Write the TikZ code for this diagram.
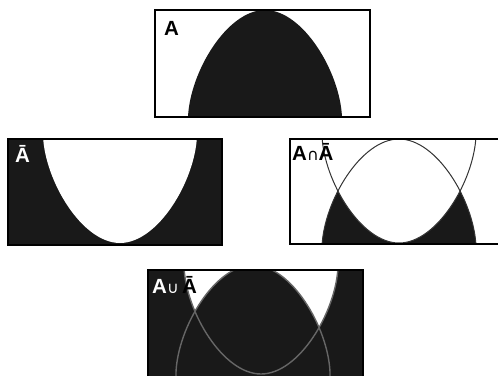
\documentclass[tikz,border=0pt]{standalone}
\usepackage{fontspec}
\setmainfont{Liberation Sans}
\newfontfamily\symfont{DejaVu Sans}
\tikzset{
  dark/.style={fill=black!90},
  panelbox/.style={draw=black, line width=1.5pt},
  cutline/.style={draw=black!80, line width=1pt},
  greyline/.style={draw=black!60, line width=1.4pt},
  lbl/.style={inner sep=0pt, anchor=base west, font=\fontsize{20.5}{20.5}\selectfont\bfseries},
}
\begin{document}
\begin{tikzpicture}[x=1pt,y=-1pt]
\useasboundingbox (0,0) rectangle (498,375);
\clip (0,0) rectangle (498,375);
% ---------- Panel 1: A ----------
\begin{scope}
  \clip (155,10) rectangle (370,117);
  \fill[white] (155,10) rectangle (370,117);
  \fill[dark] (188,130) -- (188,117) .. controls (190,72) and (227,10) .. (265,10)
      .. controls (303,10) and (340,72) .. (342,117) -- (342,130) -- cycle;
\end{scope}
\draw[panelbox] (155,10) rectangle (370,117);
\node[lbl] (la) at (164,35) {A};
% ---------- Panel 2: not A ----------
\begin{scope}
  \clip (8,139) rectangle (222,245);
  \fill[dark] (8,139) rectangle (222,245);
  \fill[white] (43,120) -- (43,136) .. controls (45,181) and (82,243) .. (120,243)
      .. controls (158,243) and (195,181) .. (197,136) -- (197,120) -- cycle;
\end{scope}
\draw[panelbox] (8,139) rectangle (222,245);
\node[lbl, white] (lna) at (15,162) {Ā};
% ---------- Panel 3: A cap not A ----------
\begin{scope}
  \clip (290,139) rectangle (505,244);
  \fill[white] (290,139) rectangle (505,244);
  \fill[dark] (322,260) -- (322,246) .. controls (324,201) and (361,139) .. (399,139)
      .. controls (437,139) and (474,201) .. (476,246) -- (476,260) -- cycle;
  \fill[white] (322,120) -- (322,136) .. controls (324,181) and (361,243) .. (399,243)
      .. controls (437,243) and (474,181) .. (476,136) -- (476,120) -- cycle;
  \draw[cutline] (322,246) .. controls (324,201) and (361,139) .. (399,139)
      .. controls (437,139) and (474,201) .. (476,246);
  \draw[cutline] (322,136) .. controls (324,181) and (361,243) .. (399,243)
      .. controls (437,243) and (474,181) .. (476,136);
\end{scope}
\draw[panelbox] (290,139) rectangle (505,244);
\node[lbl] (lcap) at (292,160) {A{\symfont\mdseries\fontsize{16}{16}\selectfont ∩}Ā};
% ---------- Panel 4: A cup not A ----------
\begin{scope}
  \clip (148,270) rectangle (363,380);
  \fill[dark] (148,270) rectangle (363,380);
  \fill[white] (184,250) -- (184,267) .. controls (186,312) and (223,374) .. (261,374)
      .. controls (299,374) and (336,312) .. (338,267) -- (338,250) -- cycle;
  \fill[dark] (176,390) -- (176,372) .. controls (178,327) and (215,265) .. (253,265)
      .. controls (291,265) and (328,327) .. (330,372) -- (330,390) -- cycle;
  \draw[greyline] (176,390) -- (176,372) .. controls (178,327) and (215,265) .. (253,265)
      .. controls (291,265) and (328,327) .. (330,372) -- (330,390);
  \draw[greyline] (184,267) .. controls (186,312) and (223,374) .. (261,374)
      .. controls (299,374) and (336,312) .. (338,267);
\end{scope}
\draw[panelbox] (148,270) rectangle (363,380);
\node[lbl, white] (lcup) at (152,293) {A{\symfont\mdseries\fontsize{16}{16}\selectfont ∪}};
\node[lbl] (lcupb) at ([xshift=3pt]lcup.base east) {Ā};
\end{tikzpicture}
\end{document}
